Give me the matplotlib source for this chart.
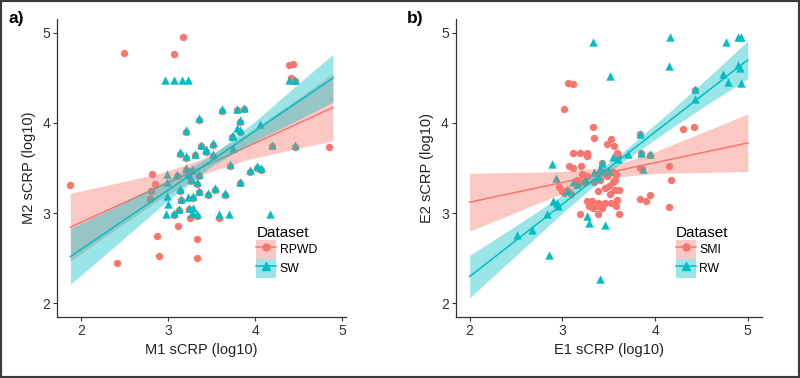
import numpy as np
import matplotlib.pyplot as plt
from matplotlib.patches import Patch, Rectangle
from matplotlib.lines import Line2D

plt.rcParams['font.family'] = ['Liberation Sans', 'DejaVu Sans']

RED = '#F8766D'
TEAL = '#00BFC4'

# ---- panel a) : M1 vs M2 ----
rpwd_x = [1.88, 2.50, 3.17, 3.07, 4.39, 4.43, 4.41, 4.46, 4.84, 2.82, 2.85, 2.80, 2.79,
          3.11, 2.87, 2.90, 2.41, 3.33, 3.33, 3.25, 3.58,
          3.36, 3.20, 3.62, 3.79, 3.87, 3.83, 3.82, 3.73, 4.19, 4.46, 3.38, 3.51, 3.14,
          3.21, 3.31, 3.44, 3.52, 3.71, 3.20, 3.27, 3.10, 3.23, 3.36, 3.26, 3.94, 4.02,
          4.07, 3.83, 3.33, 3.14, 3.36, 3.54, 3.65, 3.46, 3.15, 3.29, 3.12, 3.07, 3.24, 3.33]
rpwd_y = [3.31, 4.78, 4.95, 4.76, 4.64, 4.65, 4.50, 4.46, 3.73, 3.43, 3.32, 3.25, 3.16,
          2.86, 2.75, 2.52, 2.45, 2.71, 2.50, 2.95, 2.94,
          4.03, 3.90, 4.13, 4.14, 4.15, 4.01, 3.90, 3.84, 3.74, 3.73, 3.74, 3.76, 3.66,
          3.61, 3.64, 3.68, 3.63, 3.52, 3.48, 3.47, 3.41, 3.41, 3.41, 3.36, 3.46, 3.50,
          3.48, 3.33, 3.32, 3.25, 3.23, 3.26, 3.20, 3.20, 3.14, 3.17, 3.03, 2.98, 3.04, 2.97]

sw_x = [2.97, 3.07, 3.16, 3.23, 4.39, 4.46,
        3.36, 3.20, 3.62, 3.79, 3.87, 3.83, 3.79, 3.82, 3.73, 3.74,
        4.05, 4.19, 4.46, 3.38, 3.43, 3.51, 3.14, 3.21, 3.31, 3.44, 3.74, 3.52,
        3.71, 3.20, 3.27, 2.99, 3.10, 3.23, 3.36, 3.26, 2.99, 3.94, 4.02, 4.07, 3.83,
        3.33, 3.14, 3.36, 3.54, 3.65, 3.46, 2.99, 3.15, 3.29, 3.23, 3.00, 3.12, 3.07,
        3.24, 3.29, 2.98, 3.33, 3.27, 3.58, 3.70, 4.17]
sw_y = [4.48, 4.48, 4.48, 4.48, 4.48, 4.48,
        4.05, 3.92, 4.15, 4.16, 4.17, 4.03, 3.94, 3.92, 3.86, 3.85,
        3.99, 3.76, 3.75, 3.76, 3.71, 3.78, 3.68, 3.63, 3.66, 3.70, 3.72, 3.65,
        3.54, 3.50, 3.49, 3.43, 3.43, 3.43, 3.43, 3.38, 3.34, 3.48, 3.52, 3.50, 3.35,
        3.34, 3.27, 3.25, 3.28, 3.22, 3.22, 3.19, 3.16, 3.19, 3.18, 3.10, 3.05, 3.00,
        3.06, 3.06, 2.99, 2.99, 3.00, 2.99, 2.99, 2.99]

# regression lines + 95% bands
rpwd_fit_x = [1.88, 2.4, 2.9, 3.4, 3.9, 4.4, 4.89]
rpwd_fit = [2.844, 3.073, 3.293, 3.513, 3.734, 3.954, 4.17]
rpwd_lo = [2.47, 2.82, 3.15, 3.43, 3.59, 3.70, 3.80]
rpwd_hi = [3.22, 3.33, 3.44, 3.60, 3.88, 4.21, 4.55]

sw_fit_x = [1.88, 2.4, 2.9, 3.5, 4.0, 4.5, 4.89]
sw_fit = [2.517, 2.859, 3.188, 3.583, 3.912, 4.241, 4.497]
sw_lo = [2.21, 2.64, 3.06, 3.52, 3.80, 4.04, 4.23]
sw_hi = [2.83, 3.07, 3.32, 3.64, 4.02, 4.44, 4.76]

# ---- panel b) : E1 vs E2 ----
smi_x = [3.06, 3.12, 3.02, 3.33, 3.34, 3.52, 3.48, 3.56, 3.59, 3.60, 3.12, 3.19, 3.27,
         3.27, 3.07, 3.11, 3.20, 3.43, 3.27, 3.21, 3.16, 3.38, 3.45, 3.50, 3.18, 3.23,
         3.05, 3.09, 3.02, 3.34, 3.41, 3.48, 3.55, 3.57, 3.39, 3.46, 3.50, 3.55, 3.58,
         3.51, 3.57, 3.61, 3.27, 3.32, 3.38, 3.41, 3.46, 3.52, 3.59, 3.29, 3.33, 3.39,
         3.43, 3.58, 3.19, 3.39, 3.61, 3.84, 3.90, 3.95, 3.84, 3.86, 3.95, 4.15, 4.17,
         4.15, 4.30, 4.42, 4.43, 3.84, 3.85, 3.00, 2.96]
smi_y = [4.44, 4.43, 4.16, 3.95, 3.83, 3.82, 3.77, 3.74, 3.67, 3.63, 3.67, 3.67, 3.67,
         3.63, 3.52, 3.50, 3.52, 3.55, 3.41, 3.43, 3.37, 3.43, 3.45, 3.46, 3.34, 3.35,
         3.26, 3.21, 3.22, 3.35, 3.37, 3.41, 3.45, 3.37, 3.24, 3.28, 3.30, 3.34, 3.43,
         3.21, 3.26, 3.26, 3.13, 3.13, 3.11, 3.10, 3.11, 3.11, 3.15, 3.08, 3.06, 3.08,
         3.06, 3.08, 2.99, 2.99, 2.99, 3.16, 3.13, 3.20, 3.50, 3.49, 3.64, 3.52, 3.37,
         3.07, 3.93, 3.95, 4.37, 3.88, 3.67, 3.24, 3.29]

rw_x = [3.33, 4.16, 4.77, 4.89, 4.93, 4.15, 3.51, 4.73, 4.79, 4.89, 4.92, 4.93, 4.43, 4.43,
        2.89, 2.93, 2.90, 2.94, 2.83, 2.95, 2.51, 2.67, 2.86, 3.27, 3.29, 3.46, 3.41,
        3.84, 3.85, 3.71, 3.95, 3.87, 3.43, 3.55, 3.11, 3.05, 3.16, 3.34, 3.41, 3.60,
        3.50, 3.25, 3.38]
rw_y = [4.90, 4.95, 4.90, 4.95, 4.95, 4.63, 4.52, 4.54, 4.45, 4.64, 4.61, 4.44, 4.38, 4.26,
        3.54, 3.39, 3.13, 3.11, 2.99, 3.08, 2.76, 2.81, 2.54, 2.97, 2.89, 2.87, 2.27,
        3.88, 3.67, 3.66, 3.65, 3.49, 3.56, 3.62, 3.34, 3.26, 3.32, 3.45, 3.50, 3.60,
        3.47, 3.38, 3.40]

smi_fit_x = [2.0, 2.5, 3.0, 3.5, 4.0, 4.5, 5.0]
smi_fit = [3.12, 3.23, 3.339, 3.449, 3.559, 3.668, 3.778]
smi_lo = [2.80, 3.01, 3.22, 3.39, 3.44, 3.45, 3.46]
smi_hi = [3.44, 3.45, 3.46, 3.51, 3.68, 3.89, 4.10]

rw_fit_x = [2.0, 2.5, 3.0, 3.6, 4.2, 4.6, 5.0]
rw_fit = [2.295, 2.696, 3.097, 3.578, 4.059, 4.379, 4.70]
rw_lo = [2.06, 2.53, 3.00, 3.53, 3.96, 4.23, 4.49]
rw_hi = [2.53, 2.86, 3.20, 3.63, 4.16, 4.53, 4.91]

# scale ranges of the panels (before the 5% padding)
x_range_a = [1.88, 4.89]
x_range_b = [2.0, 5.0]
y_range = [2.0, 5.0]


def expand(lim):
    r = lim[1] - lim[0]
    return lim[0] - 0.05 * r, lim[1] + 0.05 * r


def smooth(ax, fx, fy, lo, hi, color):
    ax.fill_between(fx, lo, hi, color=color, alpha=0.4, lw=0, zorder=3)
    ax.plot(fx, fy, color=color, lw=1.1, zorder=3)


def panel(ax, red, teal, names, xr, xlabel, ylabel, leg_x):
    ax.scatter(red[0], red[1], marker='o', s=28, color=RED, lw=0, zorder=2)
    ax.scatter(teal[0], teal[1], marker='^', s=36, color=TEAL, lw=0, zorder=2)
    smooth(ax, *red[2:], RED)
    smooth(ax, *teal[2:], TEAL)

    ax.set_xlim(expand(xr))
    ax.set_ylim(expand(y_range))
    ax.set_xticks([2, 3, 4, 5])
    ax.set_yticks([2, 3, 4, 5])
    for side in ['top', 'right']:
        ax.spines[side].set_visible(False)
    for side in ['left', 'bottom']:
        ax.spines[side].set_color('#333333')
        ax.spines[side].set_linewidth(0.9)
    ax.tick_params(length=3, width=0.8, color='#333333', labelsize=10,
                   labelcolor='#333333', pad=2)
    ax.set_xlabel(xlabel, fontsize=10.5, color='#222222', labelpad=4)
    ax.set_ylabel(ylabel, fontsize=10.5, color='#222222', labelpad=5)

    handles = [(Patch(facecolor=RED, alpha=0.4, edgecolor='none'),
                Line2D([], [], color=RED, marker='o', markersize=5, lw=1.1)),
               (Patch(facecolor=TEAL, alpha=0.4, edgecolor='none'),
                Line2D([], [], color=TEAL, marker='^', markersize=5.5, lw=1.1))]
    ax.legend(handles=handles, labels=names, title='Dataset', loc='upper left',
              bbox_to_anchor=(leg_x, 0.305), frameon=False, handlelength=1.6,
              handleheight=2.0, labelspacing=0, handletextpad=0.3, borderpad=0,
              borderaxespad=0, fontsize=8.8, title_fontsize=11, alignment='left')


fig = plt.figure(figsize=(8, 3.78), dpi=100)
ax1 = fig.add_axes([0.0716, 0.1622, 0.3609, 0.7868])
ax2 = fig.add_axes([0.5696, 0.1622, 0.3825, 0.7868])

panel(ax1,
      (rpwd_x, rpwd_y, rpwd_fit_x, rpwd_fit, rpwd_lo, rpwd_hi),
      (sw_x, sw_y, sw_fit_x, sw_fit, sw_lo, sw_hi),
      ['RPWD', 'SW'], x_range_a, 'M1 sCRP (log10)', 'M2 sCRP (log10)', 0.69)
panel(ax2,
      (smi_x, smi_y, smi_fit_x, smi_fit, smi_lo, smi_hi),
      (rw_x, rw_y, rw_fit_x, rw_fit, rw_lo, rw_hi),
      ['SMI', 'RW'], x_range_b, 'E1 sCRP (log10)', 'E2 sCRP (log10)', 0.72)

fig.text(0.011, 0.972, 'a)', fontsize=12.5, weight='bold', va='top')
fig.text(0.509, 0.972, 'b)', fontsize=12.5, weight='bold', va='top')

fig.add_artist(Rectangle((0, 0), 1, 1, transform=fig.transFigure, fill=False,
                         edgecolor='#3c3c3c', lw=3))

fig.savefig('out.png', dpi=100)
